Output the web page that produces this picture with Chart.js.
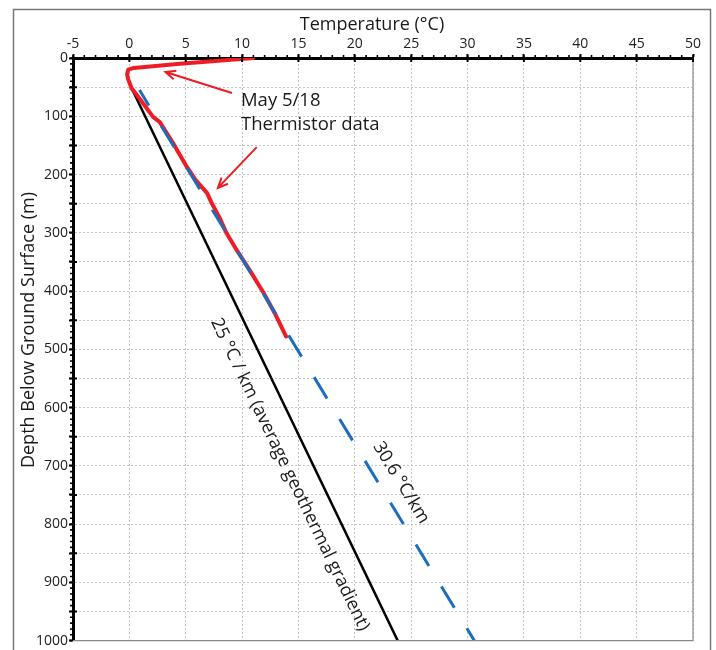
<!DOCTYPE html>
<html>
<head>
<meta charset="utf-8">
<script src="https://cdn.jsdelivr.net/npm/chart.js@4/dist/chart.umd.min.js"></script>
<style>
  html, body { margin: 0; padding: 0; background: #fff; }
  #wrap { width: 716px; height: 650px; position: relative; }
</style>
</head>
<body>
<div id="wrap"><canvas id="chart"></canvas></div>
<script>
// Thermistor profile (May 5/18)
const thermTemp  = [11.0, 4.5, 0.4, -0.1, -0.2, -0.1, 0.2, 1.0, 2.1, 2.7, 4.0, 5.1, 5.9, 6.9, 7.3, 8.0, 8.6, 9.5, 10.7, 11.9, 12.9, 13.9];
const thermDepth = [0, 10, 17, 20, 28, 37, 52, 72, 101, 110, 150, 187, 210, 232, 249, 274, 300, 329, 365, 403, 438, 478];

// 25 °C/km average geothermal gradient
const avgTemp  = [0.2, 23.8];
const avgDepth = [52, 1000];

// 30.6 °C/km fitted gradient
const fitTemp  = [0.9, 30.6];
const fitDepth = [55, 1000];

// axis ranges
const tempRange  = [-5, 50];
const depthRange = [0, 1000];

const RED = '#ee1c25';
const BLUE = '#1b6dbd';
const FONT = '"Open Sans", "DejaVu Sans", sans-serif';

function toPoints(xs, ys) {
    return xs.map((x, i) => ({ x: x, y: ys[i] }));
}

// draw a red arrow with an open head at (x2, y2)
function drawArrow(ctx, x1, y1, x2, y2) {
    const ang = Math.atan2(y2 - y1, x2 - x1);
    const len = 11, spread = 0.42;
    ctx.beginPath();
    ctx.moveTo(x1, y1);
    ctx.lineTo(x2, y2);
    ctx.moveTo(x2 - len * Math.cos(ang - spread), y2 - len * Math.sin(ang - spread));
    ctx.lineTo(x2, y2);
    ctx.lineTo(x2 - len * Math.cos(ang + spread), y2 - len * Math.sin(ang + spread));
    ctx.stroke();
}

const decor = {
    id: 'decor',
    beforeDraw(chart) {
        const ctx = chart.ctx;
        ctx.save();
        ctx.strokeStyle = '#777';
        ctx.lineWidth = 1.5;
        ctx.strokeRect(13.5, 9.5, 697, 700);
        ctx.restore();
    },
    afterDraw(chart) {
        const ctx = chart.ctx;
        const xs = chart.scales.x, ys = chart.scales.y;
        const a = chart.chartArea;
        ctx.save();

        // right and bottom frame of plot
        ctx.strokeStyle = '#8a8a8a';
        ctx.lineWidth = 1.2;
        ctx.beginPath();
        ctx.moveTo(a.right, a.top);
        ctx.lineTo(a.right, a.bottom);
        ctx.lineTo(a.left, a.bottom);
        ctx.stroke();

        // minor ticks
        ctx.strokeStyle = '#000';
        ctx.lineWidth = 1.6;
        ctx.beginPath();
        for (let t = tempRange[0]; t <= tempRange[1]; t += 1) {
            const px = xs.getPixelForValue(t);
            ctx.moveTo(px, a.top);
            ctx.lineTo(px, a.top - 3);
        }
        for (let d = depthRange[0]; d <= depthRange[1]; d += 10) {
            const py = ys.getPixelForValue(d);
            ctx.moveTo(a.left, py);
            ctx.lineTo(a.left - 3, py);
        }
        ctx.stroke();
        // major ticks reaching into the plot
        ctx.lineWidth = 2;
        ctx.beginPath();
        for (let t = tempRange[0]; t <= tempRange[1]; t += 5) {
            const px = xs.getPixelForValue(t);
            ctx.moveTo(px, a.top);
            ctx.lineTo(px, a.top + 4);
        }
        for (let d = depthRange[0] + 50; d < depthRange[1]; d += 100) {
            const py = ys.getPixelForValue(d);
            ctx.moveTo(a.left, py);
            ctx.lineTo(a.left + 4, py);
        }
        ctx.stroke();

        // axis titles
        ctx.fillStyle = '#1a1a1a';
        ctx.font = '18px ' + FONT;
        ctx.textAlign = 'center';
        ctx.textBaseline = 'alphabetic';
        ctx.fillText('Temperature (°C)', 372, 30);
        ctx.save();
        ctx.translate(33.5, 330);
        ctx.rotate(-Math.PI / 2);
        ctx.fillText('Depth Below Ground Surface (m)', 0, 0);
        ctx.restore();

        // thermistor note + arrows
        ctx.textAlign = 'left';
        ctx.font = '18.5px ' + FONT;
        ctx.fillText('May 5/18', xs.getPixelForValue(9.9), ys.getPixelForValue(83));
        ctx.fillText('Thermistor data', xs.getPixelForValue(9.9), ys.getPixelForValue(124));
        ctx.strokeStyle = RED;
        ctx.lineWidth = 2;
        drawArrow(ctx, xs.getPixelForValue(9.1), ys.getPixelForValue(60),
                       xs.getPixelForValue(3.2), ys.getPixelForValue(24));
        drawArrow(ctx, xs.getPixelForValue(11.3), ys.getPixelForValue(153),
                       xs.getPixelForValue(7.85), ys.getPixelForValue(223));

        // gradient labels, rotated along their lines
        function lineLabel(text, tx, ty, lx, ly, size) {
            const ang = Math.atan2(
                ys.getPixelForValue(ly[1]) - ys.getPixelForValue(ly[0]),
                xs.getPixelForValue(lx[1]) - xs.getPixelForValue(lx[0]));
            ctx.save();
            ctx.translate(xs.getPixelForValue(tx), ys.getPixelForValue(ty));
            ctx.rotate(ang);
            ctx.font = size + 'px ' + FONT;
            ctx.textAlign = 'center';
            ctx.textBaseline = 'middle';
            ctx.fillStyle = '#1a1a1a';
            ctx.fillText(text, 0, 0);
            ctx.restore();
        }
        lineLabel('25 °C / km (average geothermal gradient)', 14.25, 715, avgTemp, avgDepth, 18);
        lineLabel('30.6 °C/km', 24.1, 729, fitTemp, fitDepth, 18);

        ctx.restore();
    }
};

new Chart(document.getElementById('chart'), {
    type: 'scatter',
    data: {
        datasets: [
            {
                label: '30.6 °C/km',
                data: toPoints(fitTemp, fitDepth),
                showLine: true,
                borderColor: BLUE,
                borderWidth: 3,
                borderDash: [25, 24],
                borderDashOffset: 7,
                pointRadius: 0,
                order: 0
            },
            {
                label: 'May 5/18 Thermistor data',
                data: toPoints(thermTemp, thermDepth),
                showLine: true,
                borderColor: RED,
                borderWidth: 4,
                borderJoinStyle: 'round',
                borderCapStyle: 'round',
                pointRadius: 0,
                order: 1
            },
            {
                label: '25 °C/km',
                data: toPoints(avgTemp, avgDepth),
                showLine: true,
                borderColor: '#000',
                borderWidth: 2.5,
                pointRadius: 0,
                order: 2
            }
        ]
    },
    options: {
        responsive: true,
        maintainAspectRatio: false,
        animation: false,
        layout: { padding: { left: 0, top: 0, right: 23, bottom: 9 } },
        plugins: { legend: { display: false }, tooltip: { enabled: false } },
        scales: {
            x: {
                type: 'linear',
                position: 'top',
                min: tempRange[0],
                max: tempRange[1],
                afterFit: s => { s.height = 58; },
                ticks: {
                    stepSize: 5,
                    padding: 2,
                    color: '#222',
                    font: { family: FONT, size: 14 }
                },
                grid: {
                    color: '#c4c4c4',
                    lineWidth: 1,
                    tickLength: 4,
                    tickColor: '#000',
                    tickWidth: 2,
                    tickBorderDash: []
                },
                border: { color: '#000', width: 3, dash: [2, 2] }
            },
            y: {
                type: 'linear',
                reverse: true,
                min: depthRange[0],
                max: depthRange[1],
                afterFit: s => { s.width = 73; },
                ticks: {
                    stepSize: 50,
                    padding: 1,
                    color: '#222',
                    font: { family: FONT, size: 14 },
                    callback: v => (v % 100 === 0 ? v : '')
                },
                grid: {
                    color: '#c4c4c4',
                    lineWidth: 1,
                    tickLength: 4,
                    tickColor: '#000',
                    tickWidth: 2,
                    tickBorderDash: []
                },
                border: { color: '#000', width: 3, dash: [2, 2] }
            }
        }
    },
    plugins: [decor]
});
</script>
</body>
</html>
